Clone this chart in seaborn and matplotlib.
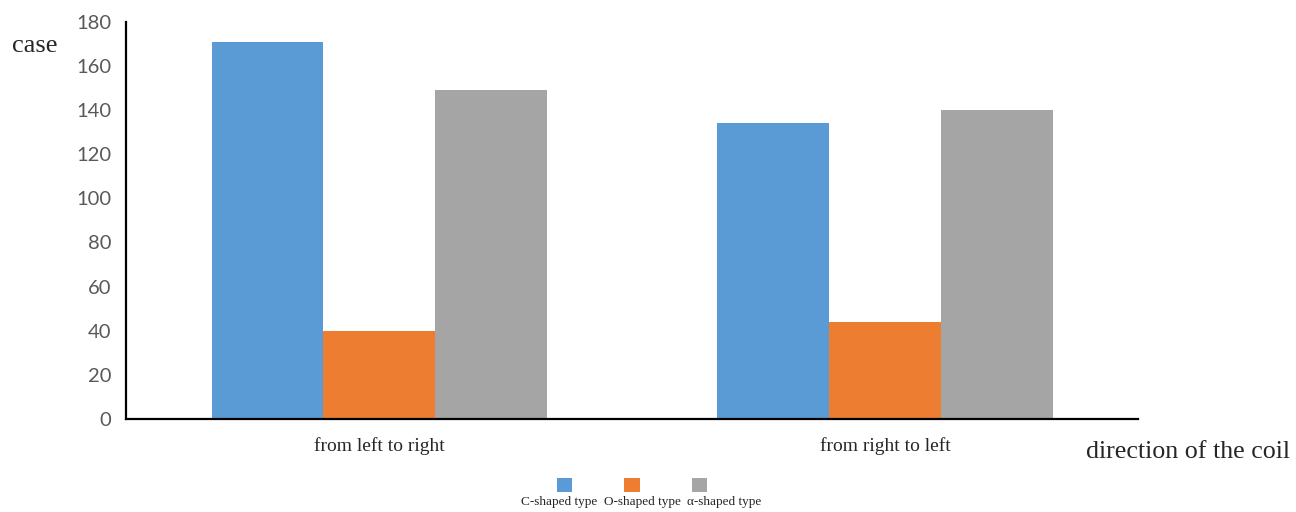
import pandas as pd
import matplotlib.pyplot as plt
import seaborn as sns
from matplotlib.patches import Patch

# data
directions = ['from left to right', 'from right to left']
shapes = ['C-shaped type', 'O-shaped type', 'α-shaped type']
c_shaped = [171, 134]
o_shaped = [40, 44]
alpha_shaped = [149, 140]
colors = ['#5B9BD5', '#ED7D31', '#A5A5A5']

df = pd.DataFrame({
    'direction': directions * 3,
    'shape': [shapes[0]] * 2 + [shapes[1]] * 2 + [shapes[2]] * 2,
    'case': c_shaped + o_shaped + alpha_shaped,
})

sns.set_style('white')
serif = ['Liberation Serif', 'DejaVu Serif']

fig = plt.figure(figsize=(12.96, 5.12), dpi=100)
ax = fig.add_axes([0.0975, 0.182, 0.7805, 0.775])

sns.barplot(data=df, x='direction', y='case', hue='shape', hue_order=shapes,
            palette=colors, width=0.663, gap=0, saturation=1, legend=False,
            edgecolor='none', ax=ax)

ax.set_xlim(-0.5, 1.5)
ax.set_ylim(0, 180)
ax.set_yticks(range(0, 181, 20))
ax.tick_params(axis='y', length=0, pad=11, labelsize=14.5, labelcolor='#595959')
ax.tick_params(axis='x', length=0, pad=13)
for lab in ax.get_yticklabels():
    lab.set_family(['Lato', 'DejaVu Sans'])
ax.set_xticks([0, 1])
ax.set_xticklabels(directions, family=serif, fontsize=14)
ax.set_xlabel('')
ax.set_ylabel('')

for s in ['top', 'right']:
    ax.spines[s].set_visible(False)
for s in ['left', 'bottom']:
    ax.spines[s].set_color('black')
    ax.spines[s].set_linewidth(1.6)

fig.text(0.009, 0.91, 'case', family=serif, fontsize=19, va='center')
fig.text(0.838, 0.117, 'direction of the coil', family=serif, fontsize=18.7, va='center')

# legend: squares above their labels
handles = [Patch(facecolor=c, edgecolor='none') for c in colors]
fig.legend(handles, [''] * 3, ncol=3, loc='center', bbox_to_anchor=(0.4877, 0.052),
           frameon=False, fontsize=11, handlelength=1, handleheight=1,
           handletextpad=0, columnspacing=3.4)
label_x = [559, 642, 724]
for lx, name in zip(label_x, shapes):
    fig.text(lx / 1296, 1 - 502 / 512, name, family=serif, fontsize=9.5,
             ha='center', va='center')

fig.savefig('out.png', dpi=100)
